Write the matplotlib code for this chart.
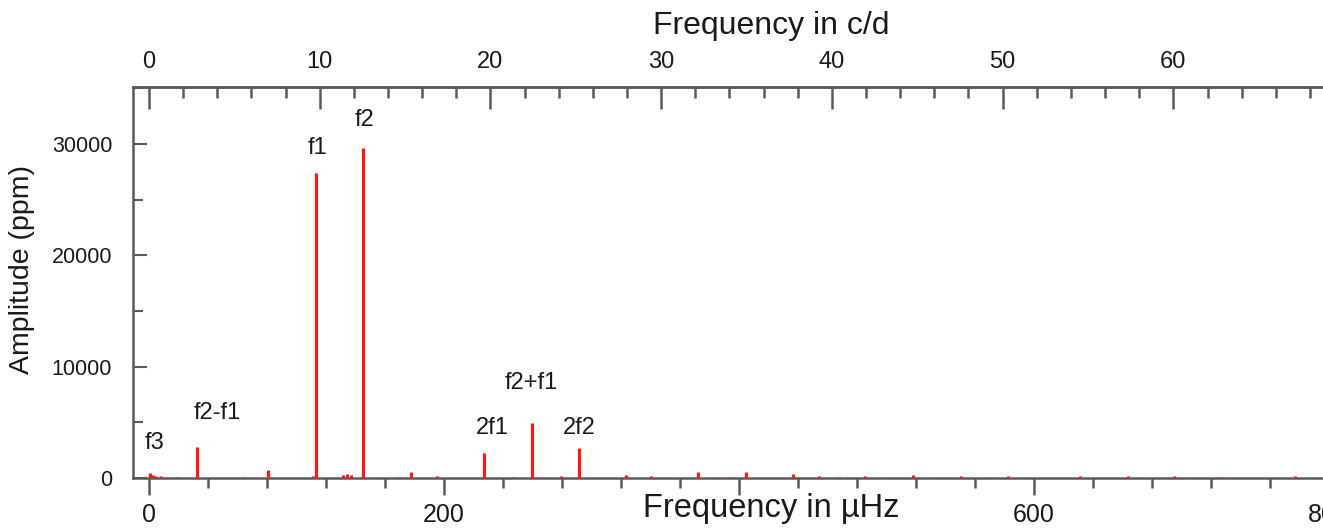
import matplotlib
matplotlib.use("Agg")
import matplotlib.pyplot as plt
import matplotlib.transforms as mtransforms
from matplotlib.ticker import MultipleLocator, FixedLocator

plt.rcParams['font.family'] = ['Liberation Sans', 'DejaVu Sans']

# Amplitude spectrum: frequency (microHz) and amplitude (ppm) of each peak
freq_uhz = [0.7, 2.5, 5.0, 8.0, 12.0, 19.0, 32.4, 64.6, 81.0, 111.5, 113.5,
            131.5, 134.4, 137.0, 145.3, 170.0, 177.4, 195.0, 226.8, 246.5,
            259.5, 266.0, 279.0, 291.4, 323.6, 340.6, 372.3, 393.6, 404.5,
            436.9, 453.9, 468.4, 485.6, 517.8, 550.6, 582.6, 631.3, 663.5,
            695.0, 727.0, 776.8]
amp_ppm = [450, 300, 200, 150, 120, 100, 2790, 100, 700, 150, 27400,
           250, 400, 250, 29600, 100, 550, 150, 2250, 120,
           4900, 120, 150, 2660, 250, 200, 500, 120, 550,
           350, 150, 120, 150, 250, 200, 200, 150, 150,
           150, 100, 150]

# Identified frequencies
peak_names = ['f3', 'f2-f1', 'f1', 'f2', '2f1', 'f2+f1', '2f2']
name_x = [4, 46, 114, 146, 232.5, 259, 292]
name_y = [3150, 5850, 29650, 32150, 4500, 8550, 4500]

bottom_ticks = [0, 200, 400, 600, 800]
bottom_ticklabels = ['0', '200', '', '600', '800']
left_ticks = [0, 10000, 20000, 30000]
top_ticks = [0, 10, 20, 30, 40, 50, 60]

UHZ_PER_CD = 11.574

W, H = 1323, 530
fig = plt.figure(figsize=(W / 100, H / 100), dpi=100)
# the frequency axis runs on past the right edge of the figure
ax = fig.add_axes([133 / W, 52 / H, (1336 - 133) / W, 391 / H])

ax.vlines(freq_uhz, 0, amp_ppm, colors='#ff1a1a', linewidth=2.3,
          capstyle='butt', zorder=3)

ax.set_xlim(-10.85, 804.7)
ax.set_ylim(0, 35100)

spine_col = '#5a5a5a'
for side in ['left', 'top', 'bottom']:
    ax.spines[side].set_color(spine_col)
    ax.spines[side].set_linewidth(1.8)
ax.spines['right'].set_visible(False)

# Bottom axis: microHz
ax.xaxis.set_major_locator(FixedLocator(bottom_ticks))
ax.set_xticklabels(bottom_ticklabels)
ax.xaxis.set_minor_locator(MultipleLocator(40))
ax.tick_params(axis='x', which='both', direction='out', color=spine_col,
               width=1.8, top=False, labelsize=18, labelcolor='#1a1a1a')
ax.tick_params(axis='x', which='major', length=12, pad=6)
ax.tick_params(axis='x', which='minor', length=7)

# Left axis: amplitude
ax.yaxis.set_major_locator(FixedLocator(left_ticks))
ax.yaxis.set_minor_locator(MultipleLocator(5000))
ax.tick_params(axis='y', which='both', direction='in', color=spine_col,
               width=1.5, right=False, labelsize=15.5, labelcolor='#1a1a1a')
ax.tick_params(axis='y', which='major', length=10, pad=15)
ax.tick_params(axis='y', which='minor', length=7)

# Top axis: cycles per day
sec = ax.secondary_xaxis('top', functions=(lambda f: f / UHZ_PER_CD,
                                           lambda c: c * UHZ_PER_CD))
sec.xaxis.set_major_locator(FixedLocator(top_ticks))
sec.xaxis.set_minor_locator(MultipleLocator(2))
sec.spines['top'].set_color(spine_col)
sec.spines['top'].set_linewidth(1.8)
sec.tick_params(axis='x', which='both', direction='in', color=spine_col,
                width=1.8, labelsize=17, labelcolor='#1a1a1a')
sec.tick_params(axis='x', which='major', length=16, pad=10)
sec.tick_params(axis='x', which='minor', length=8)

blend = mtransforms.blended_transform_factory(ax.transData, ax.transAxes)
ax.text(422, -0.078, 'Frequency in µHz', transform=blend, fontsize=23.5,
        ha='center', va='center', color='#1a1a1a', clip_on=False)
ax.text(422, 1.157, 'Frequency in c/d', transform=blend, fontsize=23,
        ha='center', va='center', color='#1a1a1a', clip_on=False)
fig.text(22 / W, 1 - 270 / H, 'Amplitude (ppm)', rotation=90, fontsize=20.5,
         ha='center', va='center', color='#1a1a1a')

for name, x, y in zip(peak_names, name_x, name_y):
    ax.text(x, y, name, fontsize=17, ha='center', va='center',
            color='#1a1a1a')

fig.savefig('out.png', dpi=100)
